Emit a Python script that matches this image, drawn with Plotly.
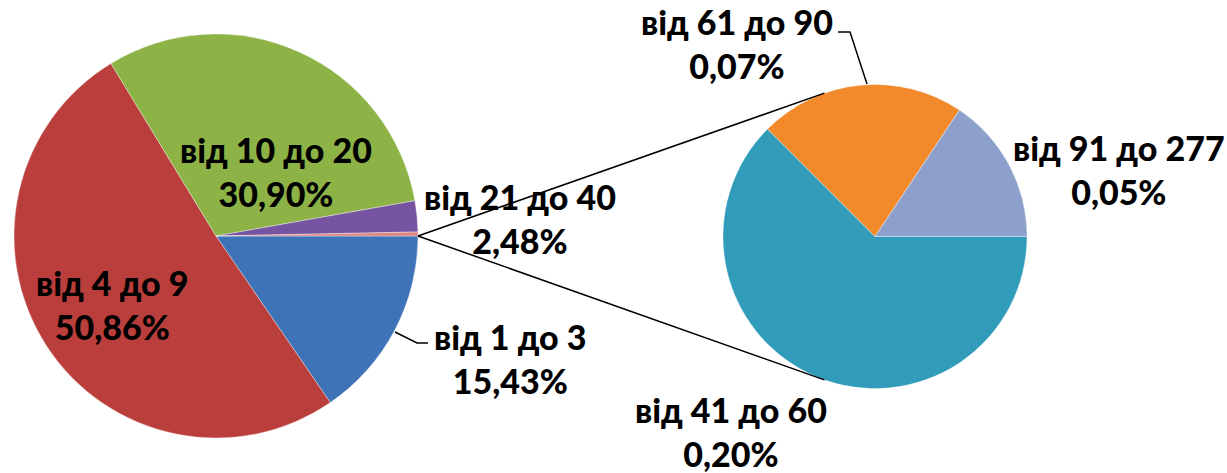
import plotly.graph_objects as go
import math

# ---- data ----
main_labels = ["від 1 до 3", "від 4 до 9", "від 10 до 20", "від 21 до 40", "інші"]
main_values = [15.43, 50.86, 30.90, 2.48, 0.32]
sub_labels = ["від 41 до 60", "від 61 до 90", "від 91 до 277"]
sub_values = [0.20, 0.07, 0.05]

main_colors = ["#3E74B7", "#BA3E3B", "#8DB347", "#7654A2", "#DE8580"]
sub_colors = ["#309CBA", "#F28A2C", "#8DA0CC"]

W, H = 1227, 473

# geometry in pixels (centre x, centre y from top, radius)
L = (216, 236, 202)
R = (875, 236.5, 152)


def dom(c):
    cx, cy, r = c
    return dict(x=[(cx - r) / W, (cx + r) / W], y=[(H - cy - r) / H, (H - cy + r) / H])


def px(x, y):
    return x / W, 1 - y / H


fig = go.Figure()
fig.add_trace(go.Pie(labels=main_labels, values=main_values, sort=False, direction="clockwise",
                     rotation=90, textinfo="none", hoverinfo="label+percent",
                     marker=dict(colors=main_colors, line=dict(color="rgba(255,255,255,0.35)", width=1)),
                     domain=dom(L), showlegend=False))
fig.add_trace(go.Pie(labels=sub_labels, values=sub_values, sort=False, direction="clockwise",
                     rotation=90, textinfo="none", hoverinfo="label+value",
                     marker=dict(colors=sub_colors, line=dict(color="rgba(255,255,255,0.35)", width=1)),
                     domain=dom(R), showlegend=False))

shapes = []
# connector lines: from edge of "other" slice to tangent points of the secondary pie
sx, sy = L[0] + L[2], L[1]
d = R[0] - sx
th = math.acos(R[2] / d)
for sgn in (-1, 1):
    tx = R[0] - R[2] * math.cos(th)
    ty = R[1] + sgn * R[2] * math.sin(th)
    x0, y0 = px(sx, sy)
    x1, y1 = px(tx, ty)
    shapes.append(dict(type="line", xref="paper", yref="paper", x0=x0, y0=y0, x1=x1, y1=y1,
                       line=dict(color="black", width=1.5)))


def leader(pts):
    path = "M " + " L ".join(f"{px(x, y)[0]},{px(x, y)[1]}" for x, y in pts)
    shapes.append(dict(type="path", xref="paper", yref="paper", path=path,
                       line=dict(color="black", width=1.5)))


leader([(395, 332), (417, 343), (428, 343)])
leader([(838, 32), (850, 32), (867, 84)])


def fmt(v):
    return f"{v:.2f}".replace(".", ",") + "%"


label_pos_main = [(510, 358), (112, 304), (276, 171), (520, 218), None]
label_pos_sub = [(731, 431), (737, 44), (1119, 169)]

anns = []
for lab, val, pos in list(zip(main_labels, main_values, label_pos_main)) + list(zip(sub_labels, sub_values, label_pos_sub)):
    if pos is None:
        continue
    x, y = px(*pos)
    anns.append(dict(x=x, y=y, xref="paper", yref="paper", text=f"{lab}<br>{fmt(val)}",
                     showarrow=False, xanchor="center", yanchor="middle", align="center",
                     font=dict(family="Lato", size=34, color="black", weight=900)))

fig.update_layout(width=W, height=H, margin=dict(l=0, r=0, t=0, b=0),
                  paper_bgcolor="white", plot_bgcolor="white",
                  shapes=shapes, annotations=anns)
fig.write_html("out.html")
